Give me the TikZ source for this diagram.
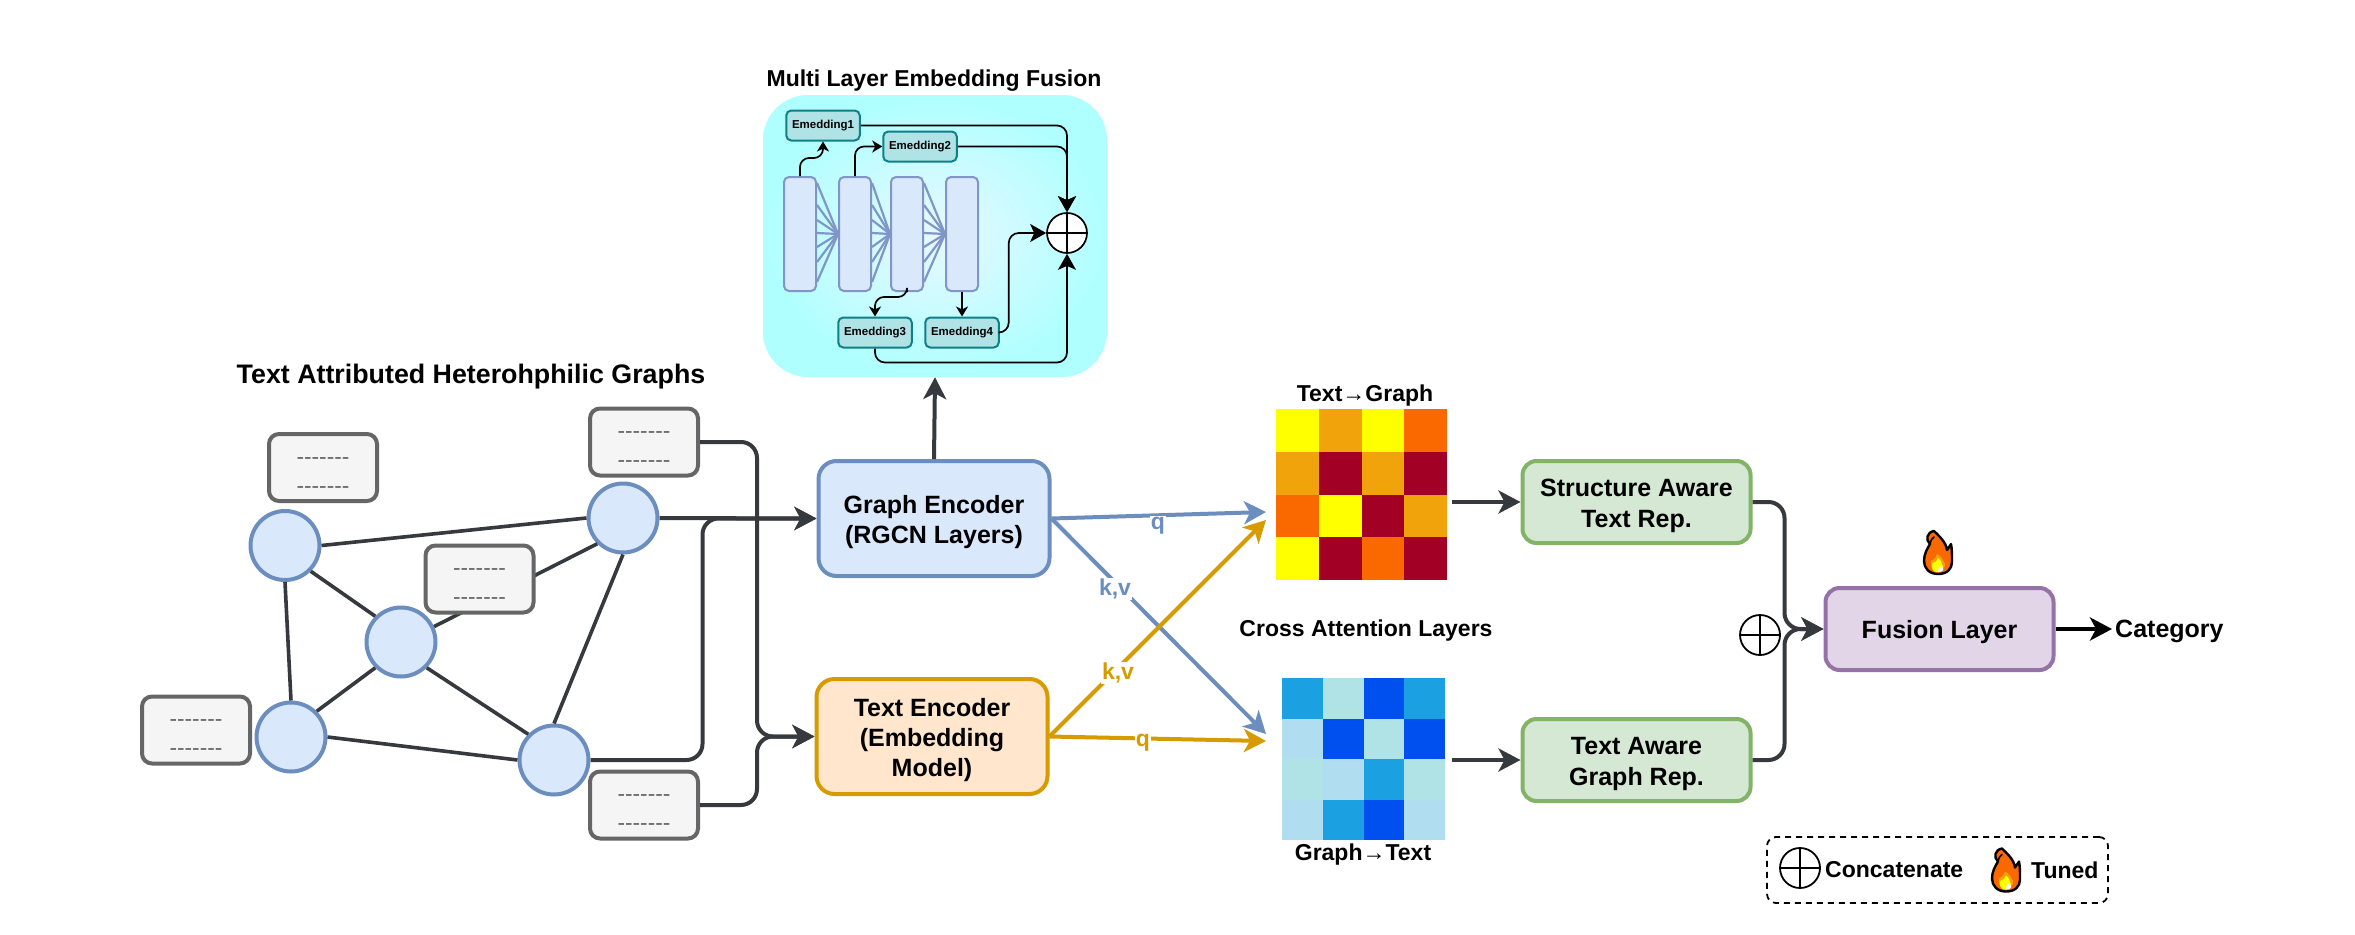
\documentclass[tikz,border=0pt]{standalone}
\usepackage{fontspec}
\setmainfont{Liberation Sans}
\usetikzlibrary{arrows.meta,shadings}
\definecolor{dk}{HTML}{36393D}
\definecolor{bluef}{HTML}{DAE8FC}
\definecolor{blues}{HTML}{6C8EBF}
\definecolor{orf}{HTML}{FFE6CC}
\definecolor{ors}{HTML}{D79B00}
\definecolor{grf}{HTML}{D5E8D4}
\definecolor{grs}{HTML}{82B366}
\definecolor{puf}{HTML}{E1D5E7}
\definecolor{pus}{HTML}{9673A6}
\definecolor{notef}{HTML}{F5F5F5}
\definecolor{notes}{HTML}{666666}
\definecolor{tealf}{HTML}{B0E3E6}
\definecolor{teals}{HTML}{0E8088}
\definecolor{cyano}{HTML}{AFFFFF}
\definecolor{cyani}{HTML}{E8F8FF}
\definecolor{layers}{HTML}{7F96C6}
\definecolor{hy}{HTML}{FFFF00}
\definecolor{ho}{HTML}{F0A30A}
\definecolor{hf}{HTML}{FA6800}
\definecolor{hr}{HTML}{A20025}
\definecolor{ba}{HTML}{1BA1E2}
\definecolor{bb}{HTML}{B0E3E6}
\definecolor{bc}{HTML}{0050EF}
\definecolor{bd}{HTML}{B1DDF0}
\newcommand{\dashrow}{-{}-{}-{}-{}-{}-{}-}
\newcommand{\lifted}{\rule{0pt}{25pt}}
\newcommand{\notetext}{\rule{0pt}{22pt}\dashrow\\\dashrow}
\tikzset{
  boxb/.style={rounded corners=18pt,line width=4pt,minimum width=231pt,minimum height=115pt,inner sep=0pt,align=center,font=\fontsize{25}{30}\selectfont\bfseries},
  repb/.style={rounded corners=14pt,line width=4pt,draw=grs,fill=grf,minimum width=228pt,minimum height=82pt,inner sep=0pt,align=center,font=\fontsize{25}{31}\selectfont\bfseries},
  gnode/.style={circle,draw=blues,fill=bluef,line width=4pt,minimum size=69pt,inner sep=0pt},
  notebox/.style={rectangle,rounded corners=10pt,draw=notes,fill=notef,line width=4pt,minimum width=108pt,minimum height=67pt,inner sep=0pt,align=center,text=notes,font=\fontsize{22.7}{29}\selectfont},
  layerbox/.style={rectangle,rounded corners=5pt,draw=layers,fill=bluef,line width=2pt,minimum width=32pt,minimum height=114pt,inner sep=0pt},
  embbox/.style={rectangle,rounded corners=5pt,draw=teals,fill=tealf,line width=2pt,minimum width=73.5pt,minimum height=30pt,inner sep=0pt,font=\fontsize{11.5}{14}\selectfont\bfseries},
  fanline/.style={draw=layers,line width=2.2pt},
  edge/.style={draw=dk,line width=3.6pt},
  darr/.style={draw=dk,line width=4pt,rounded corners=16pt,-{Stealth[length=22pt,width=23pt,inset=6pt]}},
  barr/.style={draw=black,line width=1.7pt,rounded corners=9pt,-{Stealth[length=10pt,width=12pt,inset=3pt]}},
  barrb/.style={draw=black,line width=1.7pt,rounded corners=10pt,-{Stealth[length=16pt,width=18pt,inset=4pt]}},
  bluearr/.style={draw=blues,line width=4pt,-{Stealth[length=22pt,width=23pt,inset=6pt]}},
  orarr/.style={draw=ors,line width=4pt,-{Stealth[length=22pt,width=23pt,inset=6pt]}},
  lab/.style={inner sep=1pt,font=\fontsize{23}{27}\selectfont\bfseries},
  title/.style={inner sep=0pt,font=\fontsize{23}{27}\selectfont\bfseries},
  cross/.style={circle,draw=black,minimum size=40pt,inner sep=0pt,
    path picture={
      \draw[line width=1.7pt] (path picture bounding box.north) -- (path picture bounding box.south);
      \draw[line width=1.7pt] (path picture bounding box.west) -- (path picture bounding box.east);
    }},
  flame/.pic={
    \draw[black,line width=2.4pt,fill=hf,line join=round]
      (0,22) .. controls (-9,22) and (-14,16) .. (-14,9)
      .. controls (-14,2) and (-11,-3) .. (-8,-8)
      .. controls (-13,-12) and (-11,-20) .. (-4,-21)
      .. controls (1,-16) and (8,-10) .. (9,-2)
      .. controls (10,-4) and (12,-6) .. (13,-8)
      .. controls (14,-3) and (14,3) .. (14,10)
      .. controls (14,17) and (9,22) .. (0,22) -- cycle;
    \draw[black,line width=1.6pt,line cap=round] (-8,-8) .. controls (-7,-12) and (-6,-14) .. (-4,-15);
    \fill[ho] (0,20.5) .. controls (-6,20.5) and (-8,14) .. (-7,9)
      .. controls (-5,8) and (-2,6) .. (-1,2)
      .. controls (3,4) and (5,8) .. (6,10)
      .. controls (8,10) and (8,18) .. (0,20.5) -- cycle;
    \fill[hy] (-1,20) .. controls (-6,20) and (-7,15) .. (-5.5,11)
      .. controls (-3,11) and (-1,9) .. (0,6)
      .. controls (3,8) and (4,11) .. (4,13)
      .. controls (6,14) and (6,19) .. (-1,20) -- cycle;
    \fill[white] (0,20) .. controls (0,17) and (1,15) .. (2,14)
      .. controls (3,15) and (4,16) .. (5,16)
      .. controls (6,19) and (3,20) .. (0,20) -- cycle;
  },
}
\begin{document}
\begin{tikzpicture}[x=1pt,y=-1pt]
\useasboundingbox (0,0) rectangle (2355,934);
\fill[white] (0,0) rectangle (2355,934);

% --- Multi layer embedding fusion panel
\node[title] (tMF) at (934,81) {Multi Layer Embedding Fusion};
\node[rectangle,rounded corners=45pt,inner color=cyani,outer color=cyano,minimum width=344pt,minimum height=282pt,inner sep=0pt] (MF) at (935,236) {};

\foreach \yy in {183,205,220,233,247,262,282} {
  \coordinate (fa) at (817,\yy);
  \coordinate (fb) at (872,\yy);
  \coordinate (fc) at (924,\yy);
  \draw[fanline] (fa) -- (838,234);
  \draw[fanline] (fb) -- (890,234);
  \draw[fanline] (fc) -- (945,234);
}
\node[layerbox] (L1) at (800,234) {};
\node[layerbox] (L2) at (855,234) {};
\node[layerbox] (L3) at (907,234) {};
\node[layerbox] (L4) at (962,234) {};
\node[embbox] (E1) at (823,125.5) {Emedding1};
\node[embbox] (E2) at (920,146.5) {Emedding2};
\node[embbox] (E3) at (875,332.5) {Emedding3};
\node[embbox] (E4) at (962,332.5) {Emedding4};
\node[cross,fill=white,line width=1.7pt] (OP) at (1067,233) {};

\draw[barr] (L1.north) -- ++(0,-18) -| (E1.south);
\draw[barr] (L2.north) |- (E2.west);
\draw[barr] (L3.south) -- ++(0,5) -| (E3.north);
\draw[barr,rounded corners=0pt] (L4.south) -- (E4.north);
\draw[barrb] (E2.east) -| (OP.north);
\draw[barrb] (E1.east) -| (OP.north);
\draw[barrb] (E4.east) -- ++(9,0) |- (OP.west);
\draw[barrb] (E3.south) -- ++(0,14) -| (OP.south);

% --- Graph
\node[inner sep=0pt,font=\fontsize{26.8}{31}\selectfont\bfseries] (tG) at (471,377) {Text Attributed Heterohphilic Graphs};
\node[gnode] (N1) at (285,545.5) {};
\node[gnode] (N2) at (623,518) {};
\node[gnode] (N3) at (401,642) {};
\node[gnode] (N4) at (291,737) {};
\node[gnode] (N5) at (554,760) {};
\draw[edge] (N1.east) -- (N2.west);
\draw[edge] (N1.south east) -- (N3.north west);
\draw[edge] (N1.south) -- (N4.north);
\draw[edge] (N2.south) -- (N5.north);
\draw[edge] (N3.south west) -- (N4.north east);
\draw[edge] (N3.south east) -- (N5.north west);
\draw[edge] (N4.east) -- (N5.west);
\draw[edge] (N3.25) -- (N2.225);

\node[notebox] (B1) at (323,467.5) {\notetext};
\node[notebox] (B2) at (644,442) {\notetext};
\node[notebox] (B3) at (479.5,579) {\notetext};
\node[notebox] (B4) at (196,730) {\notetext};
\node[notebox] (B5) at (644,805) {\notetext};

% --- Encoders
\node[boxb,rectangle,draw=blues,fill=bluef] (GE) at (934,518.5) {\lifted Graph Encoder\\(RGCN Layers)};
\node[boxb,rectangle,draw=ors,fill=orf] (TE) at (932,736.5) {\lifted Text Encoder\\(Embedding\\Model)};

\draw[darr] (N2.east) -- (GE.west);
\draw[darr] (N5.east) -- ++(112,0) |- (GE.west);
\draw[darr] (B2.east) -- ++(57,0) |- (TE.west);
\draw[darr] (B5.east) -- ++(57,0) |- (TE.west);
\draw[darr] (GE.north) -- (MF.south);

% --- Heat maps
\foreach \hc [count=\n from 0] in {hy,ho,hy,hf,ho,hr,ho,hr,hf,hy,hr,ho,hy,hr,hf,hr} {
  \pgfmathsetmacro\cx{mod(\n,4)}
  \pgfmathsetmacro\cy{int(\n/4)}
  \fill[\hc] (1276+\cx*42.75,409+\cy*42.75) rectangle +(43,43);
}
\foreach \hc [count=\n from 0] in {ba,bb,bc,ba,bd,bc,bb,bc,bb,bd,ba,bb,bd,ba,bc,bd} {
  \pgfmathsetmacro\cx{mod(\n,4)}
  \pgfmathsetmacro\cy{int(\n/4)}
  \fill[\hc] (1282+\cx*40.75,678+\cy*40.5) rectangle +(41,40.8);
}
\node[title] (tTG) at (1365,396) {Text→Graph};
\node[title] (tGT) at (1363,855) {Graph→Text};
\node[title] (tCA) at (1366,631) {Cross Attention Layers};

\coordinate (h1in) at (1266,512);
\coordinate (h1inb) at (1266,520);
\coordinate (h2in) at (1266,734);
\coordinate (h2inb) at (1266,741);
\coordinate (h1out) at (1452,502);
\coordinate (h2out) at (1452,760);

\draw[bluearr] (GE.east) -- (h1in);
\draw[bluearr] (GE.east) -- (h2in);
\draw[orarr] (TE.east) -- (h1inb);
\draw[orarr] (TE.east) -- (h2inb);
\node[lab,fill=white,text=blues] (qb) at (1158,526) {q};
\node[lab,fill=white,text=blues] (kb) at (1115,589) {k,v};
\node[lab,fill=white,text=ors] (ko) at (1118,673) {k,v};
\node[lab,fill=white,text=ors] (qo) at (1143,743) {q};

% --- Representations
\node[repb,rectangle] (SA) at (1636.5,502) {\lifted Structure Aware\\Text Rep.};
\node[repb,rectangle] (TA) at (1636.5,760) {\lifted Text Aware\\Graph Rep.};
\node[rectangle,rounded corners=14pt,line width=4pt,draw=pus,fill=puf,minimum width=228pt,minimum height=82pt,inner sep=0pt,font=\fontsize{25}{30}\selectfont\bfseries] (FL) at (1939.5,629) {\lifted Fusion Layer};
\draw[darr,rounded corners=0pt] (h1out) -- (SA.west);
\draw[darr,rounded corners=0pt] (h2out) -- (TA.west);
\draw[darr] (SA.east) -- ++(32,0) |- (FL.west);
\draw[darr] (TA.east) -- ++(32,0) |- (FL.west);
\node[cross,line width=1.8pt] (OC) at (1760,635) {};
\coordinate (cat) at (2112,629);
\draw[draw=black,line width=4pt,-{Stealth[length=22pt,width=23pt,inset=6pt]}] (FL.east) -- (cat);
\node[anchor=west,inner sep=0pt,font=\fontsize{25}{30}\selectfont\bfseries] (CT) at (2115,631) {Category};
\pic at (1938,552) {flame};

% --- Legend
\node[rectangle,rounded corners=9pt,draw=black,line width=1.8pt,dash pattern=on 6pt off 5pt,minimum width=341pt,minimum height=66pt,inner sep=0pt] (LG) at (1937.5,870) {};
\node[cross,line width=1.8pt] (OL) at (1800,868) {};
\node[title,anchor=west] (tC) at (1825,870) {Concatenate};
\pic at (2006,869.5) {flame};
\node[title,anchor=west] (tT) at (2031,870) {Tuned};
\end{tikzpicture}
\end{document}
